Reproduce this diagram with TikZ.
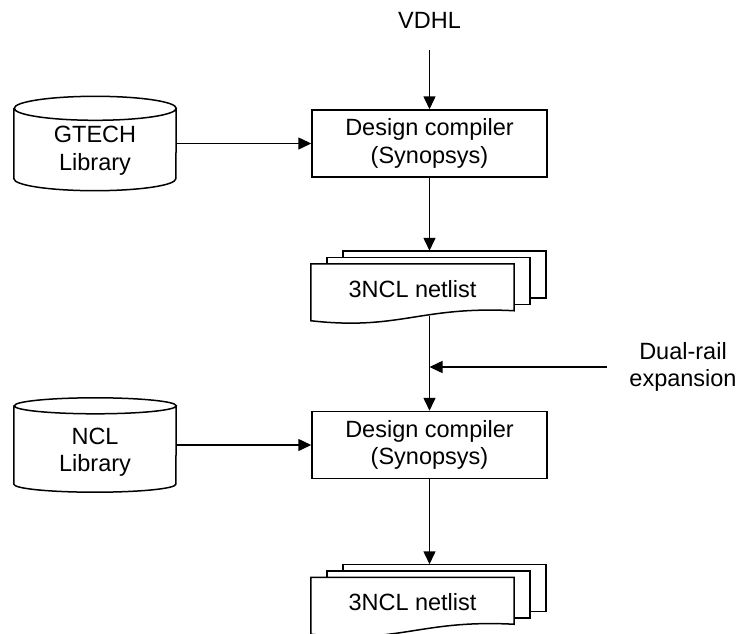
\documentclass[tikz,border=0pt]{standalone}
\usepackage{fontspec}
\setmainfont{Liberation Sans}
\usetikzlibrary{arrows.meta,positioning}
\tikzset{
    %Define standard arrow tip
    >={Triangle[length=13pt,width=12pt]},
    %Define style for boxes
    compiler/.style={
   	rectangle,
   	draw=black, line width=1.5pt,
   	minimum width=235pt,
   	minimum height=67pt,
   	align=center
   },
   library/.style={
   	minimum width=162pt,
   	minimum height=94pt,
   	inner sep=0pt
   },
   libtext/.style={align=center, yshift=-7pt},
   netlist/.style={
   	minimum width=203pt,
   	minimum height=50pt,
   	inner sep=0pt
   },
   sheet/.style={line width=1.5pt},
    % Define arrow style
    pil/.style={
           ->,
           line width=1.5pt},
}
% cylinder round a library node: name, height of the end ellipse
\newcommand{\libcyl}[2]{%
  \draw[sheet] ([yshift=-#2]#1.north west) -- ([yshift=#2]#1.south west)
    arc[start angle=180, end angle=360, x radius=81pt, y radius=#2]
    -- ([yshift=-#2]#1.north east)
    arc[start angle=0, end angle=360, x radius=81pt, y radius=#2];
}
% stack of three sheets round a netlist node
\newcommand{\netstack}[1]{%
  \draw[sheet] ([shift={(32pt,6.5pt)}]#1.north west) -- ([shift={(32pt,13pt)}]#1.north west)
    -- ([shift={(32pt,13pt)}]#1.north east) -- ([shift={(32pt,-34pt)}]#1.north east)
    -- ([shift={(16pt,-34pt)}]#1.north east);
  \draw[sheet] ([xshift=16pt]#1.north west) -- ([shift={(16pt,6.5pt)}]#1.north west)
    -- ([shift={(16pt,6.5pt)}]#1.north east) -- ([shift={(16pt,-40.5pt)}]#1.north east)
    -- ([yshift=-40.5pt]#1.north east);
  \draw[sheet] (#1.north west) -- (#1.north east) -- ([yshift=-47pt]#1.north east)
    .. controls ([shift={(-94pt,-42pt)}]#1.north east) and ([shift={(89pt,-67pt)}]#1.north west)
    .. ([yshift=-57pt]#1.north west) -- cycle;
  \coordinate (#1-top) at ([yshift=13pt]#1.north);
}

\begin{document}
\begin{tikzpicture}[x=1pt,y=1pt,font=\fontsize{23.5}{27.5}\selectfont]
		\useasboundingbox (0,0) rectangle (744,-634);
		\node[compiler](dc1) at (429.5,-143.5){Design compiler\\(Synopsys)};
		\node(vdhl) at (429.5,-20){VDHL};
		\node[library, left=135pt of dc1, label={[libtext]center:GTECH\\Library}](gtech){};
		\node[netlist, below=86pt of dc1, xshift=-17pt](net1){3NCL netlist};
		\node[compiler, below=233pt of dc1](dc2){Design compiler\\(Synopsys)};
		\node[library, left=135pt of dc2, label={[libtext]center:NCL\\Library}](ncl){};
		\node[netlist, below=98pt of dc2, xshift=-17pt](net2){3NCL netlist};
		\node[align=center](dual) at (683,-367){Dual-rail\\expansion};
		\coordinate (drin) at (607,-367);
		\libcyl{gtech}{12pt}
		\libcyl{ncl}{8pt}
		\netstack{net1}
		\netstack{net2}
		\draw[pil, shorten <=18pt] (vdhl) -- (dc1);
		\draw[pil] (gtech) -- (dc1);
		\draw[pil] (dc1) -- (dc1.south |- net1-top);
		\draw[pil] ([yshift=-1.5pt]net1.south -| dc2.north) -- (dc2);
		\draw[pil] (drin) -- (drin -| dc2.north);
		\draw[pil] (ncl) -- (dc2);
		\draw[pil] (dc2) -- (dc2.south |- net2-top);
		\end{tikzpicture}
\end{document}
